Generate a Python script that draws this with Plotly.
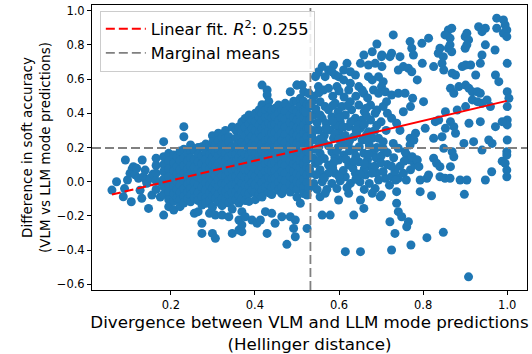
import plotly.graph_objects as go

# ---------------- data ----------------
# sparse left tail (x < 0.16)
tail_points = [(0.060,-0.049),(0.071,0.000),(0.087,-0.088),(0.090,-0.040),(0.092,0.127),(0.097,0.010),
               (0.103,0.049),(0.106,-0.117),(0.108,0.074),(0.111,0.088),(0.115,0.040),(0.119,0.078),
               (0.123,0.020),(0.127,-0.050),(0.131,-0.097),(0.132,0.127),(0.135,0.030),(0.139,0.068),
               (0.141,0.010),(0.143,-0.009),(0.147,-0.156),(0.151,0.020),(0.155,-0.078),(0.158,0.045)]

# dense cloud, left part (x 0.16-0.30): x -> list of y values
cloud_a = {
    0.165: [0.137, 0.095, 0.050, 0.005, -0.045],
    0.175: [0.000, -0.090],
    0.183: [0.234, 0.146, 0.100, 0.060, 0.015, -0.030, -0.075, -0.195],
    0.195: [0.166, 0.120, 0.075, 0.030, -0.015, -0.060, -0.105, -0.146],
    0.207: [0.156, 0.110, 0.065, 0.020, -0.025, -0.070, -0.115, -0.166],
    0.215: [0.146, 0.090, 0.045, 0.000, -0.045, -0.095],
    0.222: [0.180, 0.125, 0.070, 0.025, -0.020, -0.065, -0.107, -0.146],
    0.231: [0.322, 0.263, 0.190, 0.140, 0.095, 0.050, 0.005, -0.040, -0.085, -0.125],
    0.240: [0.170, 0.120, 0.075, 0.030, -0.015, -0.060, -0.100],
    0.247: [0.215, 0.180, 0.140, 0.095, 0.050, 0.005, -0.040, -0.078, -0.117],
    0.256: [0.185, 0.130, 0.085, 0.040, -0.005, -0.050, -0.095, -0.185],
    0.265: [0.200, 0.160, 0.115, 0.070, 0.025, -0.020, -0.065, -0.110, -0.175],
    0.274: [0.205, 0.150, 0.105, 0.060, 0.015, -0.030, -0.088, -0.136, -0.243, -0.302],
    0.283: [0.220, 0.175, 0.130, 0.085, 0.040, -0.005, -0.050, -0.095, -0.126],
    0.292: [0.205, 0.160, 0.115, 0.070, 0.025, -0.020, -0.065, -0.110, -0.185],
    0.299: [0.269, 0.230, 0.185, 0.140, 0.095, 0.050, 0.005, -0.040, -0.085, -0.150, -0.302],
}

# dense cloud, middle part (x 0.30-0.53)
cloud_b = {
    0.306: [0.215, 0.170, 0.125, 0.080, 0.035, -0.010, -0.055, -0.100, -0.195, -0.331],
    0.313: [0.283, 0.240, 0.195, 0.150, 0.105, 0.060, 0.015, -0.030, -0.075, -0.120],
    0.322: [0.260, 0.215, 0.170, 0.125, 0.080, 0.035, -0.010, -0.055, -0.100, -0.140, -0.195],
    0.330: [0.300, 0.255, 0.210, 0.165, 0.120, 0.075, 0.030, -0.015, -0.060, -0.105],
    0.338: [0.263, 0.234, 0.190, 0.145, 0.100, 0.055, 0.010, -0.035, -0.080, -0.125, -0.205],
    0.346: [0.320, 0.205, 0.160, 0.115, 0.070, 0.025, -0.020, -0.065, -0.110, -0.160, -0.302],
    0.355: [0.300, 0.255, 0.210, 0.165, 0.120, 0.075, 0.030, -0.015, -0.060, -0.105],
    0.362: [0.322, 0.254, 0.190, 0.145, 0.100, 0.055, 0.010, -0.035, -0.080, -0.125, -0.224, -0.282],
    0.369: [0.350, 0.300, 0.230, 0.170, 0.125, 0.080, 0.035, -0.010, -0.055, -0.100, -0.175, -0.253, -0.292],
    0.377: [0.370, 0.320, 0.270, 0.215, 0.160, 0.115, 0.070, 0.025, -0.020, -0.065, -0.110, -0.205],
    0.386: [0.390, 0.340, 0.290, 0.245, 0.200, 0.155, 0.110, 0.065, 0.020, -0.025, -0.070, -0.115],
    0.393: [0.360, 0.310, 0.265, 0.220, 0.175, 0.130, 0.085, 0.040, -0.005, -0.050, -0.224],
    0.401: [0.400, 0.350, 0.300, 0.255, 0.210, 0.165, 0.120, 0.075, 0.030, -0.015, -0.060, -0.105],
    0.405: [-0.243],
    0.410: [0.420, 0.375, 0.330, 0.285, 0.240, 0.195, 0.150, 0.105, 0.060, 0.015, -0.030, -0.075],
    0.413: [-0.224],
    0.417: [0.565, 0.450, 0.400, 0.355, 0.310, 0.265, 0.220, 0.175, 0.130, 0.085, 0.040, -0.005, -0.050, -0.090],
    0.425: [0.420, 0.375, 0.330, 0.285, 0.240, 0.195, 0.150, 0.105, 0.060, 0.015, -0.030, -0.175],
    0.429: [0.536, 0.507, -0.302],
    0.433: [0.470, 0.430, 0.385, 0.340, 0.295, 0.250, 0.205, 0.160, 0.115, 0.070, 0.025, -0.020, -0.065],
    0.440: [0.420, 0.375, 0.330, 0.285, 0.240, 0.195, 0.150, 0.105, 0.060, 0.015, -0.030, -0.075, -0.185],
    0.448: [0.429, 0.380, 0.335, 0.290, 0.245, 0.200, 0.155, 0.110, 0.065, 0.020, -0.025, -0.243],
    0.456: [0.448, 0.400, 0.355, 0.310, 0.265, 0.220, 0.175, 0.130, 0.085, 0.040, -0.005, -0.050],
    0.464: [0.420, 0.375, 0.330, 0.285, 0.240, 0.195, 0.150, 0.105, 0.060, 0.015, -0.030, -0.070, -0.205],
    0.472: [0.458, 0.410, 0.365, 0.320, 0.275, 0.230, 0.185, 0.140, 0.095, 0.050, 0.005, -0.040],
    0.476: [-0.366],
    0.484: [0.526, 0.439, 0.390, 0.345, 0.300, 0.255, 0.210, 0.165, 0.120, 0.075, 0.030, -0.015, -0.060, -0.205],
    0.492: [0.470, 0.420, 0.375, 0.330, 0.285, 0.240, 0.195, 0.150, 0.105, 0.060, 0.015, -0.030, -0.273],
    0.496: [-0.224, -0.322],
    0.500: [0.565, 0.468, 0.410, 0.360, 0.315, 0.270, 0.225, 0.180, 0.135, 0.090, 0.045, 0.000, -0.045, -0.090],
    0.508: [0.488, 0.440, 0.395, 0.350, 0.305, 0.260, 0.215, 0.170, 0.125, 0.080, 0.035, -0.010, -0.126],
    0.512: [0.565],
    0.516: [0.526, 0.470, 0.420, 0.375, 0.330, 0.285, 0.240, 0.195, 0.150, 0.105, 0.060, 0.015, -0.030, -0.070],
    0.524: [0.450, 0.400, 0.355, 0.310, 0.265, 0.220, 0.175, 0.130, 0.085, 0.040, -0.005, -0.078, -0.273],
    0.528: [0.517, -0.039],
}

# cloud right of the mean line (x 0.52-0.70)
cloud_c_points = [
    (0.690,0.805),(0.679,0.760),(0.659,0.741),(0.702,0.741),(0.651,0.692),(0.670,0.682),(0.686,0.692),
    (0.702,0.673),(0.619,0.692),(0.611,0.653),(0.627,0.643),(0.587,0.682),(0.575,0.653),(0.567,0.614),
    (0.591,0.624),(0.560,0.673),(0.551,0.643),(0.544,0.614),(0.512,0.565),(0.500,0.565),
    (0.548,0.634),(0.583,0.643),(0.599,0.614),(0.611,0.595),(0.627,0.575),(0.639,0.624),(0.670,0.614),(0.679,0.595),
    (0.528,0.517),(0.551,0.556),(0.563,0.536),(0.575,0.546),(0.595,0.556),(0.623,0.536),(0.647,0.556),(0.659,0.517),(0.682,0.536),
    (0.536,0.468),(0.555,0.468),(0.567,0.439),(0.591,0.458),(0.607,0.439),(0.627,0.468),(0.647,0.448),(0.675,0.448),(0.690,0.419),
    (0.520,0.409),(0.540,0.390),(0.560,0.371),(0.583,0.380),(0.603,0.351),(0.615,0.390),(0.639,0.371),(0.655,0.361),(0.675,0.361),(0.686,0.400),
    (0.528,0.312),(0.551,0.302),(0.579,0.302),(0.599,0.292),(0.623,0.322),(0.651,0.312),(0.670,0.292),
    (0.540,0.244),(0.563,0.234),(0.587,0.254),(0.607,0.224),(0.635,0.263),(0.655,0.244),(0.679,0.254),
    (0.528,0.175),(0.555,0.166),(0.583,0.175),(0.611,0.156),(0.635,0.185),(0.659,0.166),(0.682,0.175),
    (0.544,0.107),(0.575,0.097),(0.599,0.127),(0.623,0.097),(0.647,0.117),(0.675,0.088),
    (0.532,0.049),(0.560,0.039),(0.591,0.049),(0.615,0.029),(0.639,0.049),(0.663,0.039),(0.690,0.049),
    (0.540,0.500),(0.585,0.500),(0.612,0.495),(0.640,0.500),(0.668,0.490),
    (0.530,0.440),(0.575,0.420),(0.598,0.410),(0.630,0.420),(0.660,0.410),
    (0.548,0.345),(0.570,0.340),(0.592,0.330),(0.628,0.350),(0.645,0.330),(0.690,0.330),
    (0.535,0.275),(0.565,0.270),(0.590,0.280),(0.615,0.270),(0.642,0.285),(0.665,0.270),
    (0.528,0.215),(0.552,0.205),(0.575,0.210),(0.598,0.200),(0.622,0.215),(0.648,0.205),(0.672,0.215),(0.690,0.200),
    (0.538,0.140),(0.565,0.135),(0.590,0.145),(0.617,0.130),(0.640,0.150),(0.668,0.130),(0.688,0.140),
    (0.530,0.075),(0.555,0.070),(0.585,0.080),(0.610,0.065),(0.633,0.080),(0.660,0.075),(0.685,0.090),
    (0.540,-0.010),(0.560,0.000),(0.583,-0.010),(0.603,0.005),(0.627,-0.010),(0.650,0.000),(0.672,-0.010),(0.694,0.010),
    (0.548,-0.045),(0.571,-0.045),(0.595,-0.040),(0.619,-0.035),(0.660,-0.045),(0.686,-0.040),
    (0.555,-0.088),(0.567,-0.068),(0.599,-0.107),(0.623,-0.068),(0.651,-0.107),(0.659,-0.156),(0.679,-0.068),
    (0.698,-0.088),(0.560,-0.195),(0.579,-0.195),(0.635,-0.195),(0.615,-0.409),(0.651,-0.409),
    (0.552,0.520),(0.600,0.530),(0.655,0.535),(0.545,0.425),(0.585,0.445),(0.620,0.445),(0.665,0.430),
    (0.555,0.390),(0.600,0.375),(0.665,0.385),(0.530,0.360),(0.585,0.355),(0.610,0.320),(0.660,0.335),
    (0.540,0.300),(0.568,0.310),(0.640,0.305),(0.685,0.300),(0.555,0.250),(0.600,0.250),(0.625,0.240),
    (0.668,0.240),(0.545,0.190),(0.595,0.180),(0.625,0.180),(0.670,0.160),(0.552,0.120),(0.588,0.115),
    (0.635,0.120),(0.660,0.105),(0.545,0.040),(0.575,0.050),(0.600,0.030),(0.650,0.045),(0.678,0.050),
    (0.565,0.020),(0.640,0.015),
]

# x 0.69-0.78
cloud_d_points = [
    (0.701,-0.078),(0.737,-0.126),(0.741,-0.175),(0.749,-0.205),(0.721,-0.234),(0.765,-0.234),(0.761,-0.263),
    (0.733,-0.302),(0.725,-0.399),(0.771,-0.370),(0.737,-0.058),
    (0.710,0.020),(0.725,0.029),(0.741,0.020),(0.753,0.049),(0.700,0.150),(0.715,0.100),(0.730,0.140),
    (0.745,0.090),(0.760,0.160),(0.770,0.070),(0.780,0.100),(0.705,0.060),(0.733,0.060),(0.757,0.175),
    (0.769,0.127),(0.785,0.127),(0.741,0.195),(0.705,0.195),
    (0.705,0.585),(0.701,0.556),(0.694,0.517),(0.710,0.526),(0.713,0.468),(0.725,0.507),(0.741,0.517),
    (0.757,0.517),(0.775,0.488),(0.741,0.653),(0.753,0.673),(0.765,0.663),(0.773,0.643),(0.694,0.614),
    (0.725,0.371),(0.737,0.342),(0.753,0.409),(0.705,0.234),(0.729,0.224),(0.694,0.254),(0.769,0.254),
    (0.769,0.215),(0.769,0.819),(0.729,0.858),(0.701,0.731),(0.725,0.751),(0.721,0.731),(0.745,0.731),
    (0.705,0.440),(0.715,0.400),(0.700,0.350),(0.745,0.300),(0.712,0.300),(0.770,0.439),
    (0.700,0.110),(0.715,0.170),(0.725,0.090),(0.755,0.120),(0.735,0.010),(0.720,-0.020),(0.760,0.010),
]

# x > 0.78
cloud_e_points = [
    (0.975,0.956),(0.991,0.946),(0.995,0.916),(0.999,0.887),(0.991,0.868),(0.999,0.848),(0.975,0.897),
    (0.932,0.906),(0.940,0.877),(0.948,0.897),(0.904,0.868),(0.900,0.848),(0.908,0.829),(0.860,0.887),
    (0.868,0.897),(0.852,0.858),(0.864,0.839),(0.813,0.839),(0.797,0.809),(0.773,0.780),(0.777,0.741),
    (0.840,0.780),(0.836,0.751),(0.848,0.731),(0.860,0.780),(0.864,0.800),(0.868,0.760),(0.900,0.780),
    (0.904,0.800),(0.940,0.741),(0.948,0.800),(0.971,0.770),
    (0.798,0.692),(0.825,0.673),(0.845,0.692),(0.849,0.653),(0.869,0.634),(0.877,0.624),(0.893,0.673),
    (0.901,0.682),(0.913,0.682),(0.936,0.692),(1.000,0.692),(0.786,0.595),(0.925,0.624),(0.972,0.624),
    (0.980,0.585),(1.000,0.526),(1.004,0.488),(1.000,0.439),(1.000,0.361),(1.000,0.332),(1.000,0.244),
    (0.988,0.120),(0.865,0.546),(0.873,0.517),(0.885,0.556),(0.901,0.565),(0.909,0.546),
    (0.917,0.526),(0.929,0.526),(0.936,0.517),(0.917,0.478),(0.929,0.468),(0.940,0.458),(0.901,0.439),
    (0.881,0.419),(0.853,0.409),(0.801,0.468),(0.936,0.351),(0.909,0.342),(0.865,0.351),
    (0.853,0.312),(0.873,0.322),(0.877,0.283),(0.845,0.263),(0.825,0.254),(0.805,0.312),(0.782,0.283),
    (0.778,0.244),(0.774,0.146),(0.786,0.127),(0.790,0.088),(0.825,0.137),(0.849,0.195),(0.869,0.175),
    (0.873,0.146),(0.865,0.088),(0.897,0.224),(0.920,0.234),(0.940,0.185),(0.956,0.244),(0.964,0.224),
    (0.972,0.322),(0.988,0.351),(0.960,0.439),(0.952,0.478),(0.837,0.361),(0.829,0.351),
    (0.793,-0.058),(0.820,-0.082),(0.898,-0.074),(0.908,-0.556),(0.809,-0.327),(0.848,-0.296),
    (0.793,0.010),(0.809,0.020),(0.813,0.039),(0.840,0.029),(0.852,0.020),(0.864,0.020),(0.888,0.010),
    (0.904,0.010),(0.963,0.058),(0.948,0.010),(0.999,0.029),(0.999,0.068),(0.995,0.108),
    (0.832,0.108),(0.840,0.088),(0.999,0.175),(0.999,0.156),
]

# summary values printed / drawn in the reference
mean_hellinger = 0.532
mean_soft_diff = 0.197
fit_slope = 0.583
fit_intercept = -0.110
fit_r2 = 0.255
fit_solid_from = 0.53

x_range = [0.0126, 1.047]
y_range = [-0.633, 1.033]

# ---------------- assemble ----------------
xs, ys = [], []
for px, py in tail_points:
    xs.append(px); ys.append(py)
for cols in (cloud_a, cloud_b):
    for cx, col in cols.items():
        for cy in col:
            xs.append(cx); ys.append(cy)
for pts in (cloud_c_points, cloud_d_points, cloud_e_points):
    for px, py in pts:
        xs.append(px); ys.append(py)

x_min, x_max = min(xs), 0.999

def fit(v):
    return fit_slope * v + fit_intercept

fig = go.Figure()
fig.add_trace(go.Scatter(x=xs, y=ys, mode="markers",
                         marker=dict(color="#1f77b4", size=9, line=dict(width=0)),
                         showlegend=False, hoverinfo="skip"))

gray = "#808080"
fig.add_trace(go.Scatter(x=[x_range[0], x_range[1]], y=[mean_soft_diff, mean_soft_diff],
                         mode="lines", line=dict(color=gray, width=1.8, dash="9px,4px"),
                         name="Marginal means", legendrank=2))
fig.add_trace(go.Scatter(x=[mean_hellinger, mean_hellinger], y=[y_range[0], y_range[1]],
                         mode="lines", line=dict(color=gray, width=1.8, dash="9px,4px"),
                         showlegend=False))

fig.add_trace(go.Scatter(x=[x_min, fit_solid_from], y=[fit(x_min), fit(fit_solid_from)],
                         mode="lines", line=dict(color="red", width=2, dash="9px,4px"),
                         name="Linear fit. <i>R</i><sup>2</sup>: %.3f" % fit_r2, legendrank=1))
fig.add_trace(go.Scatter(x=[fit_solid_from, x_max], y=[fit(fit_solid_from), fit(x_max)],
                         mode="lines", line=dict(color="red", width=2),
                         showlegend=False))

font = "DejaVu Sans"
fig.update_layout(
    width=532, height=354,
    margin=dict(l=92, r=5, t=5, b=64, autoexpand=False),
    paper_bgcolor="white", plot_bgcolor="white",
    font=dict(family=font, color="black"),
    legend=dict(x=0.018, y=0.98, xanchor="left", yanchor="top",
                bgcolor="rgba(255,255,255,0.85)", bordercolor="#cccccc", borderwidth=1,
                font=dict(size=16.2, family=font), tracegroupgap=0, itemwidth=40),
)
fig.update_xaxes(range=x_range, tickvals=[0.2, 0.4, 0.6, 0.8, 1.0], tickformat=".1f",
                 automargin=False,
                 showgrid=False, zeroline=False, showline=True, linecolor="black", linewidth=1,
                 mirror=True, ticks="outside", ticklen=4, tickcolor="black",
                 tickfont=dict(size=11.5, family=font),
                 title=dict(text="Divergence between VLM and LLM mode predictions<br>(Hellinger distance)",
                            font=dict(size=16.7, family=font), standoff=6))
fig.update_yaxes(range=y_range, tickvals=[-0.6, -0.4, -0.2, 0.0, 0.2, 0.4, 0.6, 0.8, 1.0], tickformat=".1f",
                 automargin=False,
                 showgrid=False, zeroline=False, showline=True, linecolor="black", linewidth=1,
                 mirror=True, ticks="outside", ticklen=4, tickcolor="black",
                 tickfont=dict(size=11.5, family=font),
                 title=dict(text="Difference in soft accuracy<br>(VLM vs LLM mode predictions)",
                            font=dict(size=13.5, family=font), standoff=3))

fig.write_html("out.html", config={"displayModeBar": False},
               post_script="document.body.style.margin='0';")
